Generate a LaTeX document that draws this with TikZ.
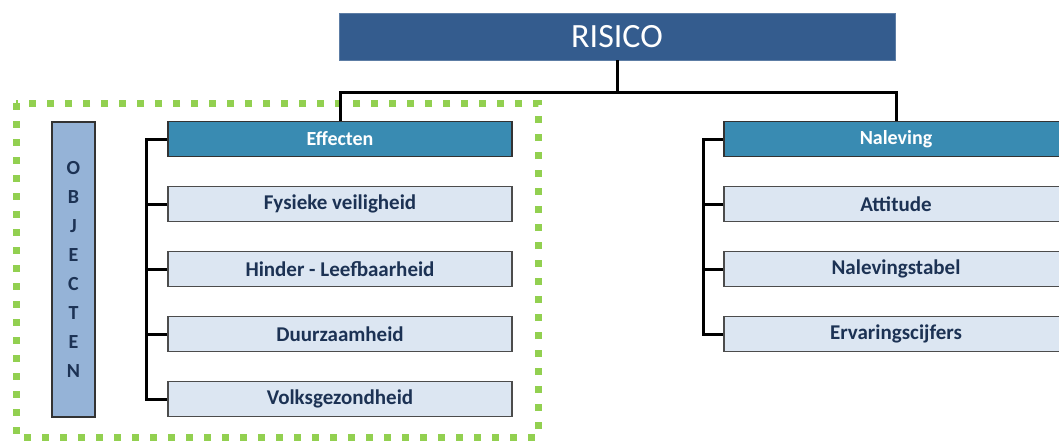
\documentclass[tikz,border=0pt]{standalone}
\usepackage{fontspec}
\setmainfont{Carlito}
\usetikzlibrary{positioning}
\definecolor{risicoblue}{RGB}{52,92,142}
\definecolor{headblue}{RGB}{57,139,178}
\definecolor{itemblue}{RGB}{220,230,242}
\definecolor{objblue}{RGB}{149,179,215}
\definecolor{itemtext}{RGB}{28,50,84}
\definecolor{dotgreen}{RGB}{146,208,80}
\tikzstyle{topbox} = [rectangle, minimum width=556pt, minimum height=47pt, text centered, draw=risicoblue!80!white, fill=risicoblue, text=white, font=\fontsize{34}{40}\selectfont]
\tikzstyle{headbox} = [rectangle, minimum width=344pt, minimum height=35pt, text centered, draw=black!80, line width=1.5pt, fill=headblue, text=white, font=\bfseries\fontsize{20}{24}\selectfont]
\tikzstyle{itembox} = [rectangle, minimum width=344pt, minimum height=35pt, text centered, draw=black!70, line width=1.5pt, fill=itemblue, text=itemtext, font=\bfseries\fontsize{21}{24}\selectfont]
\tikzstyle{objbox} = [rectangle, minimum width=43pt, minimum height=295pt, draw=black!80, line width=1.5pt, fill=objblue]
\tikzstyle{conn} = [line width=3pt, black]

\begin{document}
\begin{tikzpicture}[x=1pt, y=-1pt, node distance = 28.5pt]
	\useasboundingbox (0,0) rectangle (1059,444);
	\draw [dotgreen, line width=7pt, dash pattern=on 7pt off 11pt] (16,103) rectangle (538,437);
	\node (risico) [topbox] at (617,36.5) {RISICO};
	\node (eff) [headbox] at (340,139) {Effecten};
	\node (fys) [itembox, below = of eff] {Fysieke veiligheid};
	\node (hind) [itembox, below = of fys] {Hinder - Leefbaarheid};
	\node (duur) [itembox, below = of hind] {Duurzaamheid};
	\node (volk) [itembox, below = of duur] {Volksgezondheid};
	\node (nal) [headbox] at (896,139) {Naleving};
	\node (att) [itembox, below = of nal] {Attitude};
	\node (tabel) [itembox, below = of att] {Nalevingstabel};
	\node (erv) [itembox, below = of tabel] {Ervaringscijfers};
	\node (obj) [objbox] at (73.5,269.5) {};
	\node (objtext) [align=center, text=itemtext, font=\bfseries\fontsize{20}{29}\selectfont] at (obj.center) {O\\B\\J\\E\\C\\T\\E\\N};
	
	\draw [conn] (risico.south) -- ++(0,32) coordinate (split);
	\draw [conn] (eff.north) |- (split) -| (nal.north);
	\draw [conn] (eff.west) -- ++(-21,0) |- (volk.west);
	\draw [conn] (nal.west) -- ++(-20,0) |- (erv.west);
	\foreach \n in {fys,hind,duur}
		\draw [conn] (\n.west) -- ++(-21,0);
	\foreach \n in {att,tabel}
		\draw [conn] (\n.west) -- ++(-20,0);
\end{tikzpicture}
\end{document}
